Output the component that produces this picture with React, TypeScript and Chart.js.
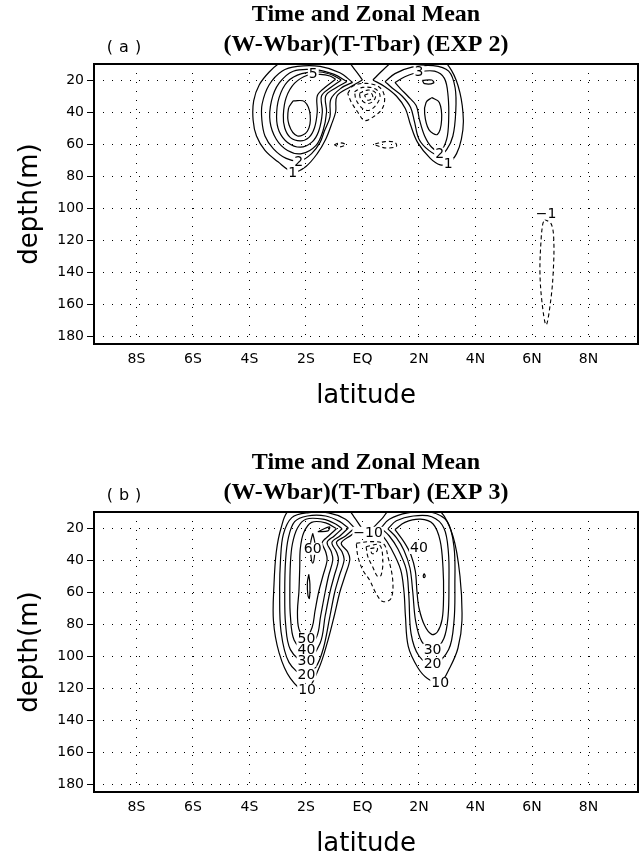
import React, { useEffect, useRef } from "react";
import { Chart, registerables } from "chart.js";

Chart.register(...registerables);

type P = [number, number];
type Label = [number, number, string];

// ---- axes ----
const LAT_TICKS = [-8, -6, -4, -2, 0, 2, 4, 6, 8];
const LAT_LABELS = ["8S", "6S", "4S", "2S", "EQ", "2N", "4N", "6N", "8N"];
const DEPTH_TICKS = [20, 40, 60, 80, 100, 120, 140, 160, 180];
const LAT_MIN = -9.5;
const LAT_MAX = 9.75;
const DEPTH_MIN = 10;
const DEPTH_MAX = 185;

// ---- panel (a) EXP 2 : solid (positive) contours, [lat, depth] ----
const A_L1: P[] = [[0.0, 20], [-0.45, 24.5], [-0.9, 30], [-0.95, 40], [-1.1, 48], [-1.3, 57], [-1.6, 66], [-2.0, 74], [-2.45, 77.5], [-3.0, 71], [-3.45, 64], [-3.75, 55], [-3.87, 45], [-3.85, 33], [-3.65, 23], [-3.3, 15], [-2.9, 9], [-2.4, 5], [-1.2, 4], [-0.6, 7], [-0.25, 14], [0.0, 20]];
const A_L2: P[] = [[-0.35, 21.5], [-0.75, 25], [-1.12, 32], [-1.15, 43], [-1.35, 52], [-1.5, 59], [-1.8, 66], [-2.2, 70.5], [-2.7, 69], [-3.15, 63], [-3.45, 55], [-3.56, 45], [-3.55, 35], [-3.3, 23], [-2.85, 14.5], [-2.3, 11.5], [-1.5, 11.5], [-0.8, 15.5], [-0.35, 21.5]];
const A_L3: P[] = [[-0.55, 21], [-0.95, 25], [-1.3, 30], [-1.27, 40], [-1.4, 52], [-1.65, 61], [-2.15, 66], [-2.65, 64], [-3.05, 57], [-3.27, 46], [-3.22, 33], [-2.95, 22], [-2.45, 14.5], [-1.7, 13.5], [-1.0, 16.5], [-0.55, 21]];
const A_L4: P[] = [[-0.75, 20], [-1.15, 25], [-1.45, 30], [-1.42, 40], [-1.55, 52], [-1.8, 59], [-2.2, 62], [-2.65, 59], [-2.95, 52], [-3.04, 43], [-2.95, 31], [-2.65, 21], [-2.15, 16], [-1.5, 15], [-1.05, 17], [-0.75, 20]];
const A_L5: P[] = [[-0.95, 19.5], [-1.35, 25], [-1.6, 30], [-1.6, 40], [-1.7, 50], [-1.9, 56], [-2.2, 58], [-2.55, 56], [-2.75, 50], [-2.8, 42], [-2.7, 31], [-2.4, 22], [-1.95, 17], [-1.5, 16.5], [-1.15, 17.5], [-0.95, 19.5]];
const A_L6: P[] = [[-2.45, 33], [-2.05, 33.5], [-1.85, 42], [-1.95, 52], [-2.3, 55], [-2.6, 48], [-2.62, 38], [-2.45, 33]];
const A_R1: P[] = [[0.37, 20], [0.65, 15], [0.95, 10], [1.2, 6], [2.7, 6], [3.15, 14], [3.45, 28], [3.57, 45], [3.5, 57], [3.33, 66], [3.05, 72], [2.75, 73], [2.4, 69], [1.95, 59], [1.7, 48], [1.52, 38], [1.2, 30], [0.78, 24], [0.37, 20]];
const A_R2: P[] = [[0.8, 21], [1.15, 16], [1.75, 12], [2.5, 11], [3.05, 14.5], [3.28, 25], [3.3, 40], [3.2, 55], [2.98, 63.5], [2.72, 67], [2.35, 64], [2.0, 57], [1.84, 46], [1.7, 37], [1.4, 30], [1.05, 25], [0.8, 21]];
const A_R3: P[] = [[1.15, 21.5], [1.5, 18], [2.0, 15], [2.55, 14.5], [2.9, 19], [3.03, 30], [3.05, 45], [2.98, 57], [2.75, 64.5], [2.45, 62], [2.2, 55], [2.02, 45], [1.9, 36], [1.6, 30], [1.35, 25.5], [1.15, 21.5]];
const A_R4: P[] = [[2.45, 31], [2.72, 34], [2.8, 45], [2.65, 54], [2.35, 51], [2.2, 41], [2.25, 34], [2.45, 31]];
const A_R4B: P[] = [[2.12, 20.2], [2.45, 20], [2.52, 21.8], [2.2, 22.3], [2.12, 20.2]];
// panel (a) dashed (negative) contours
const A_N1: P[] = [[-0.52, 28.4], [-0.34, 23.8], [0.13, 22.1], [0.6, 24.5], [0.78, 30.5], [0.7, 37.9], [0.37, 43.2], [0.07, 45.3], [-0.17, 40], [-0.4, 33.7], [-0.52, 28.4]];
const A_N2: P[] = [[-0.28, 27.4], [0.01, 24.6], [0.45, 25.5], [0.62, 29.5], [0.52, 34.7], [0.25, 38.9], [0.01, 37.9], [-0.22, 32.6], [-0.28, 27.4]];
const A_N3: P[] = [[-0.11, 28.4], [0.19, 26.3], [0.46, 28], [0.41, 32.6], [0.19, 34.7], [-0.05, 32.2], [-0.11, 28.4]];
const A_N4: P[] = [[0.07, 29.5], [0.31, 28.4], [0.36, 31], [0.19, 32.6], [0.07, 29.5]];
const A_N5: P[] = [[-1.0, 60.5], [-0.8, 59.3], [-0.6, 60.3], [-0.8, 61.8], [-1.0, 60.5]];
const A_N6: P[] = [[0.45, 60], [0.8, 58.5], [1.15, 59], [1.2, 61.5], [0.85, 62.5], [0.5, 61], [0.45, 60]];
const A_N7: P[] = [[6.45, 107], [6.68, 110], [6.77, 120], [6.75, 140], [6.66, 158], [6.5, 173], [6.36, 160], [6.28, 140], [6.32, 120], [6.38, 110], [6.45, 107]];
const A_LABELS: Label[] = [[-1.74, 16, "5"], [-2.26, 71, "2"], [-2.47, 77.8, "1"], [2.0, 14.8, "3"], [2.73, 66, "2"], [3.03, 72.5, "1"], [6.5, 103.5, "−1"]];

// ---- panel (b) EXP 3 ----
const B_L10: P[] = [[-0.05, 19.5], [-0.4, 24.5], [-0.75, 29.5], [-0.52, 35], [-0.45, 40], [-0.62, 50], [-0.8, 60], [-1.0, 75], [-1.25, 92], [-1.55, 108], [-2.0, 121.5], [-2.55, 114], [-2.95, 98], [-3.15, 78], [-3.13, 55], [-3.05, 35], [-2.88, 20], [-2.6, 9], [-1.6, 4], [-0.6, 7], [-0.3, 13], [-0.05, 19.5]];
const B_L20: P[] = [[-0.28, 20], [-0.6, 25], [-0.92, 29], [-0.72, 35], [-0.65, 40], [-0.82, 50], [-0.98, 60], [-1.15, 75], [-1.38, 95], [-1.65, 107], [-2.02, 112.5], [-2.6, 104], [-2.88, 85], [-2.93, 60], [-2.9, 40], [-2.8, 24], [-2.5, 13.5], [-1.95, 10.5], [-1.2, 10.5], [-0.6, 14.5], [-0.28, 20]];
const B_L30: P[] = [[-0.5, 20], [-0.8, 25], [-1.08, 29], [-0.92, 35], [-0.85, 40], [-1.0, 50], [-1.15, 60], [-1.32, 75], [-1.5, 92], [-2.02, 103.5], [-2.55, 96], [-2.72, 80], [-2.75, 60], [-2.72, 40], [-2.62, 26], [-2.4, 16], [-1.95, 12.5], [-1.3, 12.5], [-0.8, 16], [-0.5, 20]];
const B_L40: P[] = [[-0.72, 20.5], [-1.0, 25], [-1.25, 29], [-1.1, 35], [-1.05, 40], [-1.2, 50], [-1.32, 60], [-1.48, 75], [-1.62, 88], [-2.02, 96.5], [-2.42, 90], [-2.55, 75], [-2.57, 60], [-2.55, 42], [-2.48, 30], [-2.3, 20], [-2.0, 14.5], [-1.4, 14.5], [-0.95, 17.5], [-0.72, 20.5]];
const B_L50: P[] = [[-0.92, 20.5], [-1.2, 25], [-1.42, 29], [-1.3, 35], [-1.25, 40], [-1.4, 50], [-1.55, 60], [-1.68, 72], [-1.78, 82], [-2.02, 89], [-2.25, 83], [-2.3, 72], [-2.25, 60], [-2.22, 45], [-2.2, 33], [-2.08, 23], [-1.8, 16.5], [-1.3, 16.8], [-0.92, 20.5]];
const B_L60A: P[] = [[-1.58, 22.3], [-1.17, 19.3], [-1.22, 21.8], [-1.58, 22.3]];
const B_L60B: P[] = [[-1.76, 23.3], [-1.68, 30], [-1.7, 38], [-1.76, 42], [-1.82, 38], [-1.84, 30], [-1.76, 23.3]];
const B_L60C: P[] = [[-1.9, 49], [-1.86, 55], [-1.88, 64], [-1.93, 62], [-1.95, 54], [-1.9, 49]];
const B_R10: P[] = [[0.4, 19.5], [0.7, 14], [0.95, 9], [1.8, 4], [2.72, 9], [3.2, 25], [3.45, 50], [3.52, 78], [3.38, 95], [3.1, 107], [2.75, 116.5], [2.3, 114], [1.95, 107], [1.62, 94], [1.52, 75], [1.47, 60], [1.35, 46], [1.02, 33], [0.7, 24.5], [0.4, 19.5]];
const B_R20: P[] = [[0.65, 20], [0.95, 14.5], [1.6, 10.5], [2.4, 10], [3.0, 16], [3.24, 32], [3.27, 55], [3.24, 78], [3.05, 96], [2.5, 105.5], [2.0, 100], [1.72, 86], [1.64, 62], [1.55, 46], [1.25, 33], [0.95, 25], [0.65, 20]];
const B_R30: P[] = [[0.9, 20.5], [1.2, 15.5], [1.8, 12.5], [2.45, 13], [2.88, 20], [3.04, 35], [3.06, 55], [3.03, 75], [2.88, 89], [2.5, 96.5], [2.1, 91], [1.88, 78], [1.78, 60], [1.68, 45], [1.47, 34], [1.2, 26], [0.9, 20.5]];
const B_R40: P[] = [[1.15, 21], [1.5, 16.5], [2.05, 14.5], [2.5, 17.5], [2.75, 28], [2.85, 45], [2.87, 62], [2.82, 77], [2.65, 85], [2.45, 86.5], [2.2, 81], [2.0, 70], [1.93, 60], [1.87, 47], [1.72, 37], [1.48, 29], [1.15, 21]];
const B_R50: P[] = [[2.18, 48.5], [2.22, 50], [2.18, 51], [2.15, 50], [2.18, 48.5]];
const B_N1: P[] = [[-0.22, 29.6], [0.3, 28.5], [0.75, 30], [0.9, 37.9], [1.07, 52.5], [1.01, 64], [0.72, 66], [0.48, 60.8], [0.25, 52.5], [0.01, 46.3], [-0.16, 37.9], [-0.22, 29.6]];
const B_N2: P[] = [[0.13, 31.7], [0.6, 30.6], [0.72, 40], [0.66, 49.4], [0.54, 50.4], [0.36, 44.2], [0.19, 37.9], [0.13, 31.7]];
const B_N3: P[] = [[0.28, 32.8], [0.52, 32.5], [0.48, 35.2], [0.34, 36], [0.28, 32.8]];
const B_LABELS: Label[] = [[-1.76, 33, "60"], [-1.98, 89, "50"], [-1.98, 96, "40"], [-1.98, 103, "30"], [-1.98, 111.5, "20"], [-1.96, 121, "10"], [0.2, 23, "−10"], [2.0, 32.5, "40"], [2.48, 96, "30"], [2.48, 105, "20"], [2.75, 117, "10"]];

interface PanelSpec {
  title1: string;
  title2: string;
  tag: string;
  solid: P[][];
  dashed: P[][];
  labels: Label[];
}

const PANEL_A: PanelSpec = {
  title1: "Time and Zonal Mean",
  title2: "(W-Wbar)(T-Tbar) (EXP 2)",
  tag: "(a)",
  solid: [A_L1, A_L2, A_L3, A_L4, A_L5, A_L6, A_R1, A_R2, A_R3, A_R4, A_R4B],
  dashed: [A_N1, A_N2, A_N3, A_N4, A_N5, A_N6, A_N7],
  labels: A_LABELS,
};

const PANEL_B: PanelSpec = {
  title1: "Time and Zonal Mean",
  title2: "(W-Wbar)(T-Tbar) (EXP 3)",
  tag: "(b)",
  solid: [B_L10, B_L20, B_L30, B_L40, B_L50, B_L60A, B_L60B, B_L60C, B_R10, B_R20, B_R30, B_R40, B_R50],
  dashed: [B_N1, B_N2, B_N3],
  labels: B_LABELS,
};

const SANS = '"DejaVu Sans", sans-serif';

function overlayPlugin(spec: PanelSpec) {
  return {
    id: "overlay",
    afterDatasetsDraw(chart: any) {
      const ctx = chart.ctx as CanvasRenderingContext2D;
      const xs = chart.scales.x;
      const ys = chart.scales.y;
      ctx.save();
      ctx.font = `14px ${SANS}`;
      ctx.textAlign = "center";
      ctx.textBaseline = "middle";
      for (const [lat, dep, txt] of spec.labels) {
        const x = xs.getPixelForValue(lat);
        const y = ys.getPixelForValue(dep);
        const w = ctx.measureText(txt).width;
        ctx.fillStyle = "#fff";
        ctx.fillRect(x - w / 2 - 1, y - 6, w + 2, 12);
        ctx.fillStyle = "#000";
        ctx.fillText(txt, x, y + 0.5);
      }
      ctx.restore();
    },
    afterDraw(chart: any) {
      const ctx = chart.ctx as CanvasRenderingContext2D;
      const a = chart.chartArea;
      const cx = (a.left + a.right) / 2;
      ctx.save();
      ctx.setLineDash([]);
      ctx.strokeStyle = "#000";
      ctx.lineWidth = 2;
      ctx.strokeRect(a.left, a.top, a.right - a.left, a.bottom - a.top);
      ctx.fillStyle = "#000";
      ctx.textAlign = "center";
      ctx.textBaseline = "middle";
      ctx.font = 'bold 24px "Liberation Serif", serif';
      ctx.fillText(spec.title1, cx, a.top - 49);
      ctx.fillText(spec.title2, cx, a.top - 19);
      ctx.font = `16px ${SANS}`;
      (ctx as any).letterSpacing = "6px";
      ctx.fillText(spec.tag, 127, a.top - 16);
      (ctx as any).letterSpacing = "0px";
      ctx.font = `26px ${SANS}`;
      ctx.fillText("latitude", cx, a.bottom + 52);
      ctx.translate(30, (a.top + a.bottom) / 2);
      ctx.rotate(-Math.PI / 2);
      ctx.fillText("depth(m)", 0, 0);
      ctx.restore();
    },
  };
}

function toData(pts: P[]) {
  return pts.map(([x, y]) => ({ x, y }));
}

function buildChart(canvas: HTMLCanvasElement, spec: PanelSpec) {
  const datasets: any[] = [];
  for (const c of spec.solid) {
    datasets.push({ data: toData(c), showLine: true, borderColor: "#000", borderWidth: 1.2, pointRadius: 0, tension: 0.35, fill: false, borderDash: [] });
  }
  for (const c of spec.dashed) {
    datasets.push({ data: toData(c), showLine: true, borderColor: "#000", borderWidth: 1.1, pointRadius: 0, tension: 0.35, fill: false, borderDash: [4, 3] });
  }
  return new Chart(canvas, {
    type: "scatter",
    data: { datasets },
    plugins: [overlayPlugin(spec)],
    options: {
      animation: false,
      responsive: false,
      devicePixelRatio: 1,
      events: [],
      layout: { padding: { left: 0, right: 3, top: 64, bottom: 0 } },
      elements: { line: { capBezierPoints: false } },
      plugins: { legend: { display: false }, tooltip: { enabled: false }, title: { display: false } },
      scales: {
        x: {
          type: "linear",
          min: LAT_MIN,
          max: LAT_MAX,
          afterBuildTicks: (s: any) => {
            s.ticks = LAT_TICKS.map((v) => ({ value: v }));
          },
          afterFit: (s: any) => {
            s.height = 70;
          },
          ticks: {
            autoSkip: false,
            maxRotation: 0,
            padding: 7,
            color: "#000",
            font: { family: "DejaVu Sans", size: 14 },
            callback: (_v: any, i: number) => LAT_LABELS[i],
          },
          grid: { color: "#000", lineWidth: 1, drawTicks: false, tickLength: 0 },
          border: { display: false, dash: [1, 8] },
        },
        y: {
          type: "linear",
          reverse: true,
          min: DEPTH_MIN,
          max: DEPTH_MAX,
          afterBuildTicks: (s: any) => {
            s.ticks = DEPTH_TICKS.map((v) => ({ value: v }));
          },
          afterFit: (s: any) => {
            s.width = 94;
          },
          ticks: {
            autoSkip: false,
            padding: 3,
            color: "#000",
            font: { family: "DejaVu Sans", size: 14 },
            callback: (_v: any, i: number) => String(DEPTH_TICKS[i]),
          },
          grid: { color: "#000", lineWidth: 1, drawTicks: true, tickLength: 7, tickColor: "#000", tickWidth: 1, tickBorderDash: [] },
          border: { display: false, dash: [1, 8] },
        },
      },
    } as any,
  });
}

export default function App() {
  const refA = useRef<HTMLCanvasElement>(null);
  const refB = useRef<HTMLCanvasElement>(null);
  useEffect(() => {
    const charts = [buildChart(refA.current!, PANEL_A), buildChart(refB.current!, PANEL_B)];
    return () => charts.forEach((c) => c.destroy());
  }, []);
  return (
    <div style={{ position: "absolute", left: 0, top: 0, width: 641, height: 862, background: "#fff" }}>
      <canvas ref={refA} width={641} height={414} style={{ position: "absolute", left: 0, top: 0, width: 641, height: 414 }} />
      <canvas ref={refB} width={641} height={414} style={{ position: "absolute", left: 0, top: 448, width: 641, height: 414 }} />
    </div>
  );
}
